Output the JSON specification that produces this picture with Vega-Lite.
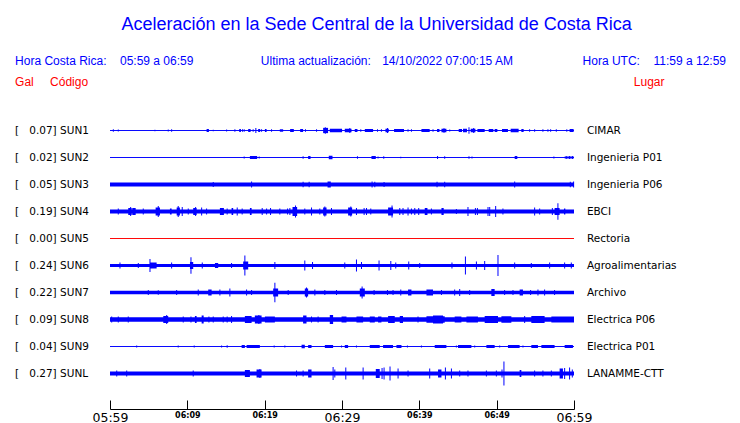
{
  "$schema": "https://vega.github.io/schema/vega-lite/v6.json",
  "background": "white",
  "padding": {"left": 15, "top": 16, "right": 5, "bottom": 0},
  "autosize": {"type": "pad"},
  "title": {"text": "Aceleración en la Sede Central de la Universidad de Costa Rica", "font": "Liberation Sans", "fontSize": 18, "fontWeight": "normal", "color": "#0000ff", "anchor": "middle", "offset": -2, "dx": 6, "baseline": "bottom"},
  "config": {
    "view": {"stroke": null},
    "axisX": {"domainColor": "black", "domainWidth": 1, "tickColor": "black", "tickWidth": 1, "tickSize": -9, "labelPadding": 11, "labelFont": "DejaVu Sans", "labelColor": "black", "labelFlush": false, "labelOverlap": false, "labelBound": false, "grid": false, "offset": 22}
  },
  "datasets": {
    "estaciones": [
      {"s": "SUN1", "gal": "0.07", "lugar": "CIMAR", "ruido": 0.011, "estado": "activa"},
      {"s": "SUN2", "gal": "0.02", "lugar": "Ingenieria P01", "ruido": 0.011, "estado": "activa"},
      {"s": "SUN3", "gal": "0.05", "lugar": "Ingenieria P06", "ruido": 0.045, "estado": "activa"},
      {"s": "SUN4", "gal": "0.19", "lugar": "EBCI", "ruido": 0.045, "estado": "activa"},
      {"s": "SUN5", "gal": "0.00", "lugar": "Rectoria", "ruido": 0.011, "estado": "sin datos"},
      {"s": "SUN6", "gal": "0.24", "lugar": "Agroalimentarias", "ruido": 0.036, "estado": "activa"},
      {"s": "SUN7", "gal": "0.22", "lugar": "Archivo", "ruido": 0.04, "estado": "activa"},
      {"s": "SUN8", "gal": "0.09", "lugar": "Electrica P06", "ruido": 0.05, "estado": "activa"},
      {"s": "SUN9", "gal": "0.04", "lugar": "Electrica P01", "ruido": 0.011, "estado": "activa"},
      {"s": "SUNL", "gal": "0.27", "lugar": "LANAMME-CTT", "ruido": 0.045, "estado": "activa"}
    ],
    "rafagas": [
      {"s":"SUN1","t0":12.49,"t1":12.79,"g":0.034},{"s":"SUN1","t0":16.71,"t1":16.93,"g":0.034},{"s":"SUN1","t0":17.87,"t1":18.18,"g":0.034},{"s":"SUN1","t0":19.16,"t1":19.42,"g":0.034},{"s":"SUN1","t0":20.03,"t1":20.25,"g":0.034},{"s":"SUN1","t0":21.96,"t1":22.39,"g":0.028},{"s":"SUN1","t0":23.29,"t1":23.77,"g":0.034},{"s":"SUN1","t0":24.59,"t1":24.97,"g":0.034},{"s":"SUN1","t0":27.56,"t1":28.2,"g":0.06},{"s":"SUN1","t0":28.42,"t1":30.01,"g":0.04},{"s":"SUN1","t0":30.36,"t1":31.23,"g":0.04},{"s":"SUN1","t0":31.65,"t1":32.0,"g":0.034},{"s":"SUN1","t0":32.95,"t1":34.02,"g":0.034},{"s":"SUN1","t0":35.62,"t1":36.05,"g":0.04},{"s":"SUN1","t0":36.73,"t1":38.02,"g":0.034},{"s":"SUN1","t0":40.27,"t1":41.34,"g":0.034},{"s":"SUN1","t0":42.29,"t1":42.6,"g":0.034},{"s":"SUN1","t0":42.86,"t1":43.5,"g":0.04},{"s":"SUN1","t0":45.09,"t1":45.52,"g":0.034},{"s":"SUN1","t0":45.65,"t1":46.16,"g":0.04},{"s":"SUN1","t0":46.64,"t1":47.25,"g":0.04},{"s":"SUN1","t0":47.51,"t1":48.45,"g":0.034},{"s":"SUN1","t0":48.97,"t1":49.57,"g":0.034},{"s":"SUN1","t0":49.74,"t1":50.09,"g":0.034},{"s":"SUN1","t0":50.69,"t1":51.46,"g":0.034},{"s":"SUN1","t0":51.81,"t1":52.84,"g":0.04},{"s":"SUN1","t0":53.19,"t1":53.49,"g":0.034},{"s":"SUN1","t0":59.01,"t1":59.13,"g":0.028},{"s":"SUN1","t0":59.43,"t1":59.95,"g":0.034},
      {"s":"SUN2","t0":18.09,"t1":19.03,"g":0.034},{"s":"SUN2","t0":25.62,"t1":25.93,"g":0.034},{"s":"SUN2","t0":28.29,"t1":28.77,"g":0.04},{"s":"SUN2","t0":33.81,"t1":34.37,"g":0.034},{"s":"SUN2","t0":42.29,"t1":42.42,"g":0.034},{"s":"SUN2","t0":52.33,"t1":52.67,"g":0.034},{"s":"SUN2","t0":58.79,"t1":59.95,"g":0.023},
      {"s":"SUN3","t0":28.13,"t1":28.55,"g":0.068},
      {"s":"SUN4","t0":2.36,"t1":2.8,"g":0.08},{"s":"SUN4","t0":2.88,"t1":3.32,"g":0.08},{"s":"SUN4","t0":5.9,"t1":6.46,"g":0.091},{"s":"SUN4","t0":7.75,"t1":7.97,"g":0.068},{"s":"SUN4","t0":8.62,"t1":9.04,"g":0.091},{"s":"SUN4","t0":10.76,"t1":11.2,"g":0.08},{"s":"SUN4","t0":14.21,"t1":14.73,"g":0.08},{"s":"SUN4","t0":15.72,"t1":15.93,"g":0.08},{"s":"SUN4","t0":18.09,"t1":18.31,"g":0.08},{"s":"SUN4","t0":23.6,"t1":24.2,"g":0.102},{"s":"SUN4","t0":27.56,"t1":28.0,"g":0.091},{"s":"SUN4","t0":30.79,"t1":31.31,"g":0.091},{"s":"SUN4","t0":35.96,"t1":36.6,"g":0.091},{"s":"SUN4","t0":40.7,"t1":41.05,"g":0.08},{"s":"SUN4","t0":42.86,"t1":43.15,"g":0.08},{"s":"SUN4","t0":57.49,"t1":58.14,"g":0.08},{"s":"SUN4","t0":58.7,"t1":58.88,"g":0.068},
      {"s":"SUN6","t0":5.17,"t1":6.03,"g":0.068},{"s":"SUN6","t0":10.34,"t1":10.76,"g":0.08},{"s":"SUN6","t0":13.57,"t1":13.99,"g":0.057},{"s":"SUN6","t0":17.22,"t1":17.87,"g":0.091},
      {"s":"SUN7","t0":12.7,"t1":13.14,"g":0.068},{"s":"SUN7","t0":21.1,"t1":21.74,"g":0.091},{"s":"SUN7","t0":25.19,"t1":25.62,"g":0.091},{"s":"SUN7","t0":32.3,"t1":32.95,"g":0.091},{"s":"SUN7","t0":38.54,"t1":38.98,"g":0.068},{"s":"SUN7","t0":40.92,"t1":41.77,"g":0.068},{"s":"SUN7","t0":49.31,"t1":49.74,"g":0.08},{"s":"SUN7","t0":52.97,"t1":53.4,"g":0.068},
      {"s":"SUN8","t0":6.89,"t1":7.53,"g":0.08},{"s":"SUN8","t0":10.98,"t1":11.2,"g":0.08},{"s":"SUN8","t0":11.85,"t1":12.11,"g":0.091},{"s":"SUN8","t0":17.44,"t1":18.31,"g":0.08},{"s":"SUN8","t0":18.73,"t1":19.6,"g":0.091},{"s":"SUN8","t0":20.03,"t1":21.32,"g":0.068},{"s":"SUN8","t0":24.97,"t1":25.41,"g":0.091},{"s":"SUN8","t0":28.42,"t1":28.85,"g":0.102},{"s":"SUN8","t0":29.94,"t1":30.58,"g":0.068},{"s":"SUN8","t0":31.87,"t1":32.73,"g":0.068},{"s":"SUN8","t0":33.59,"t1":34.24,"g":0.068},{"s":"SUN8","t0":34.66,"t1":35.1,"g":0.068},{"s":"SUN8","t0":35.96,"t1":36.82,"g":0.08},{"s":"SUN8","t0":37.47,"t1":37.89,"g":0.08},{"s":"SUN8","t0":40.92,"t1":43.28,"g":0.074},{"s":"SUN8","t0":41.77,"t1":43.06,"g":0.091},{"s":"SUN8","t0":44.57,"t1":45.44,"g":0.068},{"s":"SUN8","t0":46.09,"t1":47.58,"g":0.068},{"s":"SUN8","t0":48.45,"t1":50.17,"g":0.08},{"s":"SUN8","t0":50.61,"t1":51.9,"g":0.074},{"s":"SUN8","t0":54.48,"t1":56.2,"g":0.08},{"s":"SUN8","t0":57.07,"t1":60.0,"g":0.068},
      {"s":"SUN9","t0":17.02,"t1":17.44,"g":0.034},{"s":"SUN9","t0":17.66,"t1":19.38,"g":0.034},{"s":"SUN9","t0":24.77,"t1":25.19,"g":0.04},{"s":"SUN9","t0":25.62,"t1":26.06,"g":0.034},{"s":"SUN9","t0":27.78,"t1":28.85,"g":0.034},{"s":"SUN9","t0":30.36,"t1":30.79,"g":0.034},{"s":"SUN9","t0":33.59,"t1":34.88,"g":0.034},{"s":"SUN9","t0":35.31,"t1":36.6,"g":0.034},{"s":"SUN9","t0":37.04,"t1":37.69,"g":0.034},{"s":"SUN9","t0":41.99,"t1":43.5,"g":0.034},{"s":"SUN9","t0":45.0,"t1":46.73,"g":0.034},{"s":"SUN9","t0":48.67,"t1":49.74,"g":0.034},{"s":"SUN9","t0":51.46,"t1":52.97,"g":0.034},{"s":"SUN9","t0":54.48,"t1":55.34,"g":0.034},{"s":"SUN9","t0":55.78,"t1":57.49,"g":0.034},{"s":"SUN9","t0":58.79,"t1":59.86,"g":0.034},
      {"s":"SUNL","t0":17.44,"t1":18.09,"g":0.08},{"s":"SUNL","t0":18.95,"t1":19.6,"g":0.091},{"s":"SUNL","t0":25.62,"t1":26.06,"g":0.091},{"s":"SUNL","t0":34.37,"t1":34.88,"g":0.102},{"s":"SUNL","t0":42.42,"t1":42.86,"g":0.091},{"s":"SUNL","t0":52.97,"t1":53.19,"g":0.08},{"s":"SUNL","t0":58.14,"t1":58.57,"g":0.114}
    ],
    "picos": [
      {"s":"SUN1","t":0.43,"g":0.028},{"s":"SUN1","t":1.07,"g":0.023},{"s":"SUN1","t":5.81,"g":0.017},{"s":"SUN1","t":7.53,"g":0.023},{"s":"SUN1","t":7.97,"g":0.028},{"s":"SUN1","t":13.35,"g":0.017},{"s":"SUN1","t":15.08,"g":0.023},{"s":"SUN1","t":16.15,"g":0.028},{"s":"SUN1","t":17.14,"g":0.028},{"s":"SUN1","t":17.35,"g":0.028},{"s":"SUN1","t":18.51,"g":0.028},{"s":"SUN1","t":18.86,"g":0.057},{"s":"SUN1","t":19.6,"g":0.028},{"s":"SUN1","t":20.89,"g":0.028},{"s":"SUN1","t":25.28,"g":0.028},{"s":"SUN1","t":26.71,"g":0.028},{"s":"SUN1","t":27.84,"g":0.074},{"s":"SUN1","t":31.01,"g":0.057},{"s":"SUN1","t":32.43,"g":0.028},{"s":"SUN1","t":34.59,"g":0.028},{"s":"SUN1","t":35.1,"g":0.028},{"s":"SUN1","t":35.88,"g":0.057},{"s":"SUN1","t":38.54,"g":0.028},{"s":"SUN1","t":38.98,"g":0.028},{"s":"SUN1","t":41.77,"g":0.028},{"s":"SUN1","t":43.19,"g":0.051},{"s":"SUN1","t":43.93,"g":0.023},{"s":"SUN1","t":46.42,"g":0.074},{"s":"SUN1","t":47.03,"g":0.057},{"s":"SUN1","t":54.26,"g":0.028},{"s":"SUN1","t":54.91,"g":0.028},{"s":"SUN1","t":55.98,"g":0.028},{"s":"SUN1","t":56.63,"g":0.028},{"s":"SUN1","t":56.98,"g":0.028},{"s":"SUN1","t":57.71,"g":0.028},
      {"s":"SUN2","t":17.35,"g":0.023},{"s":"SUN2","t":19.29,"g":0.023},{"s":"SUN2","t":24.97,"g":0.028},{"s":"SUN2","t":32.0,"g":0.028},{"s":"SUN2","t":34.66,"g":0.023},{"s":"SUN2","t":35.4,"g":0.028},{"s":"SUN2","t":37.6,"g":0.017},{"s":"SUN2","t":43.28,"g":0.028},{"s":"SUN2","t":46.42,"g":0.028},{"s":"SUN2","t":46.81,"g":0.023},{"s":"SUN2","t":57.4,"g":0.023},{"s":"SUN2","t":59.01,"g":0.028},{"s":"SUN2","t":59.43,"g":0.034},{"s":"SUN2","t":59.82,"g":0.034},
      {"s":"SUN3","t":13.35,"g":0.057},{"s":"SUN3","t":18.31,"g":0.068},{"s":"SUN3","t":24.97,"g":0.063},{"s":"SUN3","t":25.75,"g":0.063},{"s":"SUN3","t":33.89,"g":0.068},{"s":"SUN3","t":34.24,"g":0.063},{"s":"SUN3","t":35.44,"g":0.057},{"s":"SUN3","t":42.29,"g":0.063},{"s":"SUN3","t":43.28,"g":0.063},{"s":"SUN3","t":52.33,"g":0.068},{"s":"SUN3","t":59.52,"g":0.063},{"s":"SUN3","t":59.95,"g":0.068},
      {"s":"SUN4","t":1.07,"g":0.068},{"s":"SUN4","t":2.67,"g":0.102},{"s":"SUN4","t":4.3,"g":0.068},{"s":"SUN4","t":6.24,"g":0.125},{"s":"SUN4","t":8.82,"g":0.125},{"s":"SUN4","t":9.34,"g":0.102},{"s":"SUN4","t":10.12,"g":0.068},{"s":"SUN4","t":11.07,"g":0.102},{"s":"SUN4","t":11.85,"g":0.091},{"s":"SUN4","t":12.49,"g":0.068},{"s":"SUN4","t":15.15,"g":0.068},{"s":"SUN4","t":16.45,"g":0.091},{"s":"SUN4","t":17.09,"g":0.068},{"s":"SUN4","t":19.68,"g":0.08},{"s":"SUN4","t":20.25,"g":0.068},{"s":"SUN4","t":20.76,"g":0.08},{"s":"SUN4","t":21.96,"g":0.068},{"s":"SUN4","t":22.96,"g":0.068},{"s":"SUN4","t":23.26,"g":0.08},{"s":"SUN4","t":23.99,"g":0.136},{"s":"SUN4","t":25.19,"g":0.068},{"s":"SUN4","t":26.06,"g":0.091},{"s":"SUN4","t":27.13,"g":0.068},{"s":"SUN4","t":27.78,"g":0.114},{"s":"SUN4","t":28.64,"g":0.08},{"s":"SUN4","t":31.14,"g":0.114},{"s":"SUN4","t":31.87,"g":0.08},{"s":"SUN4","t":32.86,"g":0.08},{"s":"SUN4","t":33.17,"g":0.08},{"s":"SUN4","t":33.72,"g":0.068},{"s":"SUN4","t":36.47,"g":0.136},{"s":"SUN4","t":37.47,"g":0.08},{"s":"SUN4","t":37.89,"g":0.08},{"s":"SUN4","t":38.54,"g":0.091},{"s":"SUN4","t":38.98,"g":0.068},{"s":"SUN4","t":39.41,"g":0.08},{"s":"SUN4","t":39.92,"g":0.08},{"s":"SUN4","t":41.56,"g":0.068},{"s":"SUN4","t":44.79,"g":0.057},{"s":"SUN4","t":46.29,"g":0.102},{"s":"SUN4","t":47.25,"g":0.08},{"s":"SUN4","t":47.51,"g":0.08},{"s":"SUN4","t":48.88,"g":0.102},{"s":"SUN4","t":49.1,"g":0.102},{"s":"SUN4","t":49.87,"g":0.125},{"s":"SUN4","t":50.81,"g":0.068},{"s":"SUN4","t":54.91,"g":0.091},{"s":"SUN4","t":55.56,"g":0.068},{"s":"SUN4","t":57.2,"g":0.08},{"s":"SUN4","t":57.92,"g":0.19},
      {"s":"SUN6","t":1.29,"g":0.068},{"s":"SUN6","t":3.66,"g":0.057},{"s":"SUN6","t":5.17,"g":0.148},{"s":"SUN6","t":7.97,"g":0.068},{"s":"SUN6","t":10.47,"g":0.19},{"s":"SUN6","t":11.93,"g":0.068},{"s":"SUN6","t":15.72,"g":0.057},{"s":"SUN6","t":17.44,"g":0.227},{"s":"SUN6","t":21.32,"g":0.08},{"s":"SUN6","t":25.19,"g":0.114},{"s":"SUN6","t":26.19,"g":0.08},{"s":"SUN6","t":30.36,"g":0.068},{"s":"SUN6","t":31.87,"g":0.136},{"s":"SUN6","t":32.52,"g":0.08},{"s":"SUN6","t":34.79,"g":0.114},{"s":"SUN6","t":36.31,"g":0.102},{"s":"SUN6","t":36.95,"g":0.068},{"s":"SUN6","t":38.63,"g":0.091},{"s":"SUN6","t":40.05,"g":0.057},{"s":"SUN6","t":44.22,"g":0.068},{"s":"SUN6","t":45.96,"g":0.205},{"s":"SUN6","t":47.38,"g":0.091},{"s":"SUN6","t":48.45,"g":0.102},{"s":"SUN6","t":50.17,"g":0.24},{"s":"SUN6","t":52.33,"g":0.068},{"s":"SUN6","t":54.48,"g":0.057},{"s":"SUN6","t":56.85,"g":0.068},{"s":"SUN6","t":58.79,"g":0.068},{"s":"SUN6","t":59.65,"g":0.068},
      {"s":"SUN7","t":4.95,"g":0.057},{"s":"SUN7","t":6.24,"g":0.051},{"s":"SUN7","t":8.62,"g":0.057},{"s":"SUN7","t":11.41,"g":0.068},{"s":"SUN7","t":14.21,"g":0.068},{"s":"SUN7","t":15.5,"g":0.091},{"s":"SUN7","t":17.66,"g":0.068},{"s":"SUN7","t":18.31,"g":0.057},{"s":"SUN7","t":21.32,"g":0.22},{"s":"SUN7","t":23.04,"g":0.057},{"s":"SUN7","t":25.41,"g":0.114},{"s":"SUN7","t":26.49,"g":0.068},{"s":"SUN7","t":27.78,"g":0.057},{"s":"SUN7","t":29.29,"g":0.057},{"s":"SUN7","t":32.6,"g":0.136},{"s":"SUN7","t":34.15,"g":0.057},{"s":"SUN7","t":35.88,"g":0.057},{"s":"SUN7","t":36.6,"g":0.057},{"s":"SUN7","t":37.6,"g":0.068},{"s":"SUN7","t":42.86,"g":0.057},{"s":"SUN7","t":44.57,"g":0.068},{"s":"SUN7","t":45.22,"g":0.08},{"s":"SUN7","t":46.51,"g":0.057},{"s":"SUN7","t":51.03,"g":0.057},{"s":"SUN7","t":52.11,"g":0.057},{"s":"SUN7","t":54.39,"g":0.057},{"s":"SUN7","t":55.34,"g":0.068},{"s":"SUN7","t":56.2,"g":0.068},{"s":"SUN7","t":57.49,"g":0.057},
      {"s":"SUN8","t":0.22,"g":0.068},{"s":"SUN8","t":1.07,"g":0.068},{"s":"SUN8","t":2.36,"g":0.068},{"s":"SUN8","t":7.33,"g":0.102},{"s":"SUN8","t":9.47,"g":0.068},{"s":"SUN8","t":10.47,"g":0.068},{"s":"SUN8","t":12.79,"g":0.068},{"s":"SUN8","t":13.35,"g":0.068},{"s":"SUN8","t":14.64,"g":0.068},{"s":"SUN8","t":15.15,"g":0.068},{"s":"SUN8","t":15.72,"g":0.08},{"s":"SUN8","t":19.25,"g":0.102},{"s":"SUN8","t":26.06,"g":0.068},{"s":"SUN8","t":26.91,"g":0.068},{"s":"SUN8","t":39.83,"g":0.068},{"s":"SUN8","t":53.62,"g":0.08},
      {"s":"SUN9","t":3.45,"g":0.023},{"s":"SUN9","t":8.82,"g":0.023},{"s":"SUN9","t":10.89,"g":0.023},{"s":"SUN9","t":14.43,"g":0.023},{"s":"SUN9","t":15.15,"g":0.028},{"s":"SUN9","t":21.23,"g":0.023},{"s":"SUN9","t":22.61,"g":0.023},{"s":"SUN9","t":29.94,"g":0.023},{"s":"SUN9","t":31.87,"g":0.023},{"s":"SUN9","t":38.46,"g":0.023},{"s":"SUN9","t":40.27,"g":0.023},{"s":"SUN9","t":44.79,"g":0.023},{"s":"SUN9","t":47.16,"g":0.023},{"s":"SUN9","t":50.39,"g":0.023},{"s":"SUN9","t":53.4,"g":0.023},
      {"s":"SUNL","t":0.87,"g":0.068},{"s":"SUNL","t":2.16,"g":0.068},{"s":"SUNL","t":10.76,"g":0.068},{"s":"SUNL","t":19.38,"g":0.102},{"s":"SUNL","t":24.12,"g":0.068},{"s":"SUNL","t":24.97,"g":0.068},{"s":"SUNL","t":28.85,"g":0.148},{"s":"SUNL","t":29.07,"g":0.091},{"s":"SUNL","t":30.49,"g":0.136},{"s":"SUNL","t":32.73,"g":0.136},{"s":"SUNL","t":35.18,"g":0.125},{"s":"SUNL","t":35.44,"g":0.136},{"s":"SUNL","t":36.21,"g":0.159},{"s":"SUNL","t":37.25,"g":0.114},{"s":"SUNL","t":38.54,"g":0.068},{"s":"SUNL","t":41.34,"g":0.114},{"s":"SUNL","t":43.37,"g":0.136},{"s":"SUNL","t":44.15,"g":0.114},{"s":"SUNL","t":45.22,"g":0.068},{"s":"SUNL","t":46.29,"g":0.068},{"s":"SUNL","t":48.67,"g":0.068},{"s":"SUNL","t":49.96,"g":0.068},{"s":"SUNL","t":50.69,"g":0.091},{"s":"SUNL","t":50.94,"g":0.27},{"s":"SUNL","t":54.91,"g":0.068},{"s":"SUNL","t":55.98,"g":0.068},{"s":"SUNL","t":57.07,"g":0.068},{"s":"SUNL","t":58.79,"g":0.125},{"s":"SUNL","t":59.43,"g":0.136},{"s":"SUNL","t":59.78,"g":0.091}
    ]
  },
  "vconcat": [
    {
      "width": 464,
      "height": 42,
      "data": {"values": [{"uno": 1}]},
      "layer": [
        {"mark": {"type": "text", "align": "left", "baseline": "middle", "font": "Liberation Sans", "fontSize": 12, "color": "#0000ff"},
         "encoding": {"x": {"datum": -12.27, "type": "quantitative", "scale": {"domain": [0, 60], "nice": false, "zero": false}, "axis": null}, "y": {"datum": "r1", "type": "nominal", "scale": {"domain": ["r1", "r2"]}, "axis": null}, "text": {"value": "Hora Costa Rica:"}}},
        {"mark": {"type": "text", "align": "left", "baseline": "middle", "font": "Liberation Sans", "fontSize": 12, "color": "#0000ff"},
         "encoding": {"x": {"datum": 1.29, "type": "quantitative", "scale": {"domain": [0, 60], "nice": false, "zero": false}, "axis": null}, "y": {"datum": "r1", "type": "nominal", "scale": {"domain": ["r1", "r2"]}, "axis": null}, "text": {"value": "05:59 a 06:59"}}},
        {"mark": {"type": "text", "align": "left", "baseline": "middle", "font": "Liberation Sans", "fontSize": 12, "color": "#0000ff"},
         "encoding": {"x": {"datum": 19.5, "type": "quantitative", "scale": {"domain": [0, 60], "nice": false, "zero": false}, "axis": null}, "y": {"datum": "r1", "type": "nominal", "scale": {"domain": ["r1", "r2"]}, "axis": null}, "text": {"value": "Ultima actualización:"}}},
        {"mark": {"type": "text", "align": "left", "baseline": "middle", "font": "Liberation Sans", "fontSize": 12, "color": "#0000ff"},
         "encoding": {"x": {"datum": 35.19, "type": "quantitative", "scale": {"domain": [0, 60], "nice": false, "zero": false}, "axis": null}, "y": {"datum": "r1", "type": "nominal", "scale": {"domain": ["r1", "r2"]}, "axis": null}, "text": {"value": "14/10/2022 07:00:15 AM"}}},
        {"mark": {"type": "text", "align": "left", "baseline": "middle", "font": "Liberation Sans", "fontSize": 12, "color": "#0000ff"},
         "encoding": {"x": {"datum": 61.11, "type": "quantitative", "scale": {"domain": [0, 60], "nice": false, "zero": false}, "axis": null}, "y": {"datum": "r1", "type": "nominal", "scale": {"domain": ["r1", "r2"]}, "axis": null}, "text": {"value": "Hora UTC:"}}},
        {"mark": {"type": "text", "align": "left", "baseline": "middle", "font": "Liberation Sans", "fontSize": 12, "color": "#0000ff"},
         "encoding": {"x": {"datum": 70.28, "type": "quantitative", "scale": {"domain": [0, 60], "nice": false, "zero": false}, "axis": null}, "y": {"datum": "r1", "type": "nominal", "scale": {"domain": ["r1", "r2"]}, "axis": null}, "text": {"value": "11:59 a 12:59"}}},
        {"mark": {"type": "text", "align": "left", "baseline": "middle", "font": "Liberation Sans", "fontSize": 12, "color": "#ff0000"},
         "encoding": {"x": {"datum": -12.27, "type": "quantitative", "scale": {"domain": [0, 60], "nice": false, "zero": false}, "axis": null}, "y": {"datum": "r2", "type": "nominal", "scale": {"domain": ["r1", "r2"]}, "axis": null}, "text": {"value": "Gal"}}},
        {"mark": {"type": "text", "align": "left", "baseline": "middle", "font": "Liberation Sans", "fontSize": 12, "color": "#ff0000"},
         "encoding": {"x": {"datum": -7.75, "type": "quantitative", "scale": {"domain": [0, 60], "nice": false, "zero": false}, "axis": null}, "y": {"datum": "r2", "type": "nominal", "scale": {"domain": ["r1", "r2"]}, "axis": null}, "text": {"value": "Código"}}},
        {"mark": {"type": "text", "align": "left", "baseline": "middle", "font": "Liberation Sans", "fontSize": 12, "color": "#ff0000"},
         "encoding": {"x": {"datum": 67.73, "type": "quantitative", "scale": {"domain": [0, 60], "nice": false, "zero": false}, "axis": null}, "y": {"datum": "r2", "type": "nominal", "scale": {"domain": ["r1", "r2"]}, "axis": null}, "text": {"value": "Lugar"}}}
      ]
    },
    {
      "width": 464,
      "height": 270,
      "layer": [
        {
          "data": {"name": "estaciones"},
          "mark": {"type": "rule", "opacity": 1},
          "encoding": {
            "x": {"datum": 0, "type": "quantitative", "scale": {"domain": [0, 60], "nice": false, "zero": false}, "title": null,
                  "axis": {"values": [0, 5, 10, 15, 20, 25, 30, 35, 40, 45, 50, 55, 60], "labelExpr": "datum.value % 10 ? '' : ['05:59','06:09','06:19','06:29','06:39','06:49','06:59'][datum.value / 10]", "labelFontSize": {"condition": {"test": "datum.value % 30 == 0", "value": 12.5}, "value": 8}, "labelFontWeight": {"condition": {"test": "datum.value % 30 == 0", "value": "normal"}, "value": "bold"}}},
            "x2": {"datum": 60},
            "y": {"field": "s", "type": "nominal", "scale": {"type": "point", "padding": 0.5, "domain": ["SUN1","SUN2","SUN3","SUN4","SUN5","SUN6","SUN7","SUN8","SUN9","SUNL"]}, "axis": null},
            "strokeWidth": {"field": "ruido", "type": "quantitative", "scale": {"domain": [0, 0.3], "range": [0, 26.4], "zero": true}, "legend": null},
            "color": {"field": "estado", "type": "nominal", "scale": {"domain": ["activa", "sin datos"], "range": ["#0000ff", "#ff0000"]}, "legend": null}
          }
        },
        {
          "data": {"name": "rafagas"},
          "mark": {"type": "rule", "color": "#0000ff", "opacity": 1},
          "encoding": {
            "x": {"field": "t0", "type": "quantitative", "scale": {"domain": [0, 60], "nice": false, "zero": false}, "title": null},
            "x2": {"field": "t1"},
            "y": {"field": "s", "type": "nominal", "scale": {"type": "point", "padding": 0.5, "domain": ["SUN1","SUN2","SUN3","SUN4","SUN5","SUN6","SUN7","SUN8","SUN9","SUNL"]}, "axis": null},
            "strokeWidth": {"field": "g", "type": "quantitative", "scale": {"domain": [0, 0.3], "range": [0, 26.4], "zero": true}, "legend": null}
          }
        },
        {
          "data": {"name": "picos"},
          "mark": {"type": "tick", "orient": "vertical", "thickness": 1, "color": "#0000ff", "opacity": 1},
          "encoding": {
            "x": {"field": "t", "type": "quantitative", "scale": {"domain": [0, 60], "nice": false, "zero": false}, "title": null},
            "y": {"field": "s", "type": "nominal", "scale": {"type": "point", "padding": 0.5, "domain": ["SUN1","SUN2","SUN3","SUN4","SUN5","SUN6","SUN7","SUN8","SUN9","SUNL"]}, "axis": null},
            "size": {"field": "g", "type": "quantitative", "scale": {"domain": [0, 0.3], "range": [0, 26.4], "zero": true}, "legend": null}
          }
        },
        {
          "data": {"name": "estaciones"},
          "transform": [{"calculate": "'[\u00a0\u00a0\u00a0' + datum.gal + '] ' + datum.s", "as": "etiqueta"}],
          "mark": {"type": "text", "align": "left", "baseline": "middle", "font": "DejaVu Sans", "fontSize": 10.5, "color": "black"},
          "encoding": {
            "x": {"datum": -12.27, "type": "quantitative", "scale": {"domain": [0, 60], "nice": false, "zero": false}},
            "y": {"field": "s", "type": "nominal", "scale": {"type": "point", "padding": 0.5, "domain": ["SUN1","SUN2","SUN3","SUN4","SUN5","SUN6","SUN7","SUN8","SUN9","SUNL"]}, "axis": null},
            "text": {"field": "etiqueta"}
          }
        },
        {
          "data": {"name": "estaciones"},
          "mark": {"type": "text", "align": "left", "baseline": "middle", "font": "DejaVu Sans", "fontSize": 10.5, "color": "black"},
          "encoding": {
            "x": {"datum": 61.67, "type": "quantitative", "scale": {"domain": [0, 60], "nice": false, "zero": false}},
            "y": {"field": "s", "type": "nominal", "scale": {"type": "point", "padding": 0.5, "domain": ["SUN1","SUN2","SUN3","SUN4","SUN5","SUN6","SUN7","SUN8","SUN9","SUNL"]}, "axis": null},
            "text": {"field": "lugar"}
          }
        }
      ]
    }
  ],
  "spacing": 25
}
